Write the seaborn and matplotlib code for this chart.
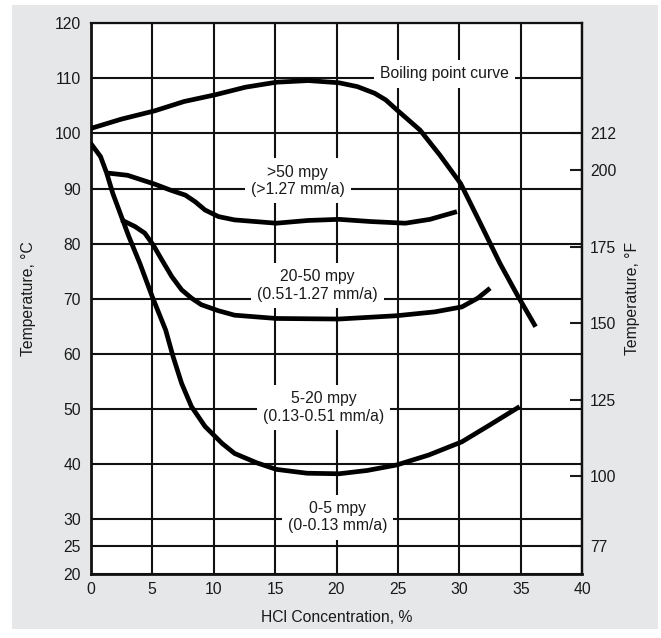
import matplotlib
matplotlib.use("Agg")
import matplotlib.pyplot as plt
from matplotlib.patches import Rectangle
import pandas as pd
import seaborn as sns

# Isocorrosion curves: HCl concentration (%) vs temperature (degC)
boiling_conc = [0.0, 2.5, 5.2, 7.6, 10.1, 12.6, 15.1, 17.7, 20.2, 21.7, 23.1, 24.0, 24.9, 26.8, 28.4, 30.1, 31.7, 33.3, 34.7, 36.2]
boiling_temp = [100.9, 102.6, 104.1, 105.8, 107.0, 108.4, 109.3, 109.6, 109.2, 108.5, 107.3, 106.1, 104.3, 100.6, 96.1, 90.9, 83.7, 76.4, 70.7, 64.9]

mpy50_conc = [1.4, 3.0, 5.2, 6.5, 7.7, 8.5, 9.3, 10.4, 11.7, 15.1, 17.7, 20.2, 22.8, 25.6, 27.6, 29.8]
mpy50_temp = [92.8, 92.4, 90.8, 89.7, 88.8, 87.6, 86.1, 84.9, 84.3, 83.7, 84.2, 84.4, 84.0, 83.7, 84.4, 85.8]

mpy20_conc = [2.5, 3.6, 4.4, 5.1, 5.8, 6.6, 7.4, 8.2, 9.0, 10.4, 11.7, 15.1, 20.2, 24.9, 28.0, 30.2, 31.5, 32.5]
mpy20_temp = [84.3, 83.1, 81.9, 79.7, 77.0, 74.0, 71.6, 70.1, 68.9, 67.8, 67.0, 66.4, 66.3, 66.9, 67.6, 68.5, 70.1, 71.9]

mpy5_conc = [0.0, 0.8, 1.3, 1.8, 2.4, 3.1, 4.0, 5.0, 6.1, 6.7, 7.4, 8.2, 9.3, 10.7, 11.7, 13.5, 15.1, 17.6, 20.2, 22.5, 24.9, 27.5, 30.2, 32.5, 34.9]
mpy5_temp = [98.2, 95.8, 92.8, 89.1, 85.5, 81.3, 76.4, 70.4, 64.3, 59.5, 54.6, 50.4, 46.8, 43.7, 41.9, 40.2, 39.0, 38.3, 38.2, 38.8, 39.8, 41.6, 44.0, 47.1, 50.4]

# Region labels: text, concentration, temperature
region_text = ["Boiling point curve", ">50 mpy\n(>1.27 mm/a)", "20-50 mpy\n(0.51-1.27 mm/a)",
               "5-20 mpy\n(0.13-0.51 mm/a)", "0-5 mpy\n(0-0.13 mm/a)"]
region_x = [28.8, 16.85, 18.45, 18.93, 20.08]
region_y = [110.8, 91.4, 72.4, 50.2, 30.3]

x_ticks = [0, 5, 10, 15, 20, 25, 30, 35, 40]
c_ticks = [20, 25, 30, 40, 50, 60, 70, 80, 90, 100, 110, 120]
f_ticks = [77, 100, 125, 150, 175, 200, 212]

sns.set_style("white")
plt.rcParams["font.family"] = ["Liberation Sans", "DejaVu Sans"]
FS = 11.3

W, H = 661, 638
fig = plt.figure(figsize=(W / 100, H / 100), dpi=100, facecolor="white")
fig.patches.append(Rectangle((12 / W, (H - 629) / H), (658 - 12) / W, (629 - 5) / H,
                             transform=fig.transFigure, facecolor="#e6e7e8",
                             edgecolor="none", zorder=-10))

ax = fig.add_axes([90.7 / W, (H - 574) / H, (582.3 - 90.7) / W, (574 - 23.3) / H])
ax.set_facecolor("white")

curves = [(boiling_conc, boiling_temp), (mpy50_conc, mpy50_temp),
          (mpy20_conc, mpy20_temp), (mpy5_conc, mpy5_temp)]
for cx, cy in curves:
    df = pd.DataFrame({"conc": cx, "temp": cy})
    sns.lineplot(data=df, x="conc", y="temp", ax=ax, color="black", linewidth=3.4,
                 sort=False, estimator=None, solid_capstyle="butt",
                 solid_joinstyle="round", zorder=3)

for s, x, y in zip(region_text, region_x, region_y):
    ax.text(x, y, s, ha="center", va="center", fontsize=FS, color="#1a1a1a",
            multialignment="center", zorder=2,
            bbox=dict(boxstyle="square,pad=0.4", facecolor="white", edgecolor="none"))

ax.set_xlim(0, 40)
ax.set_ylim(20, 120)
ax.set_xticks(x_ticks)
ax.set_yticks(c_ticks)
ax.set_axisbelow(True)
ax.grid(True, color="#111111", linewidth=1.5)
ax.tick_params(axis="both", length=0, labelsize=FS, colors="#1a1a1a")
ax.tick_params(axis="x", pad=6)
ax.tick_params(axis="y", pad=7)
ax.set_xlabel("HCl Concentration, %", fontsize=FS, color="#1a1a1a", labelpad=9)
ax.set_ylabel("Temperature, °C", fontsize=FS, color="#1a1a1a", labelpad=13)
for side, sp in ax.spines.items():
    sp.set_color("#111111")
    sp.set_linewidth(2.0 if side in ("left", "bottom") else 1.6)

sec = ax.secondary_yaxis("right", functions=(lambda c: c * 9 / 5 + 32,
                                             lambda f: (f - 32) * 5 / 9))
sec.set_yticks(f_ticks)
sec.tick_params(direction="in", length=8.6, width=1.5, pad=5.5,
                labelsize=FS, colors="#1a1a1a")
sec.spines["right"].set_linewidth(1.6)
sec.spines["right"].set_color("#111111")
sec.set_ylabel("Temperature, °F", fontsize=FS, color="#1a1a1a", labelpad=6.5)

fig.savefig("out.png", dpi=100, facecolor="white")
